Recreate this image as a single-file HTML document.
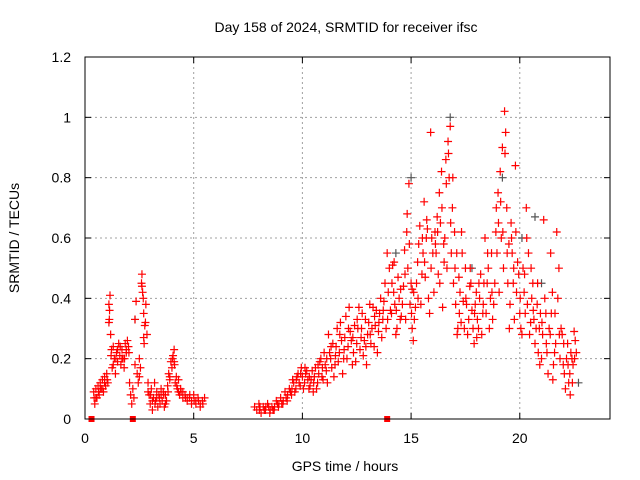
<!DOCTYPE html>
<html><head><meta charset="utf-8"><style>
body{margin:0;background:#fff;}
svg{display:block;font-family:"Liberation Sans",sans-serif;}
</style></head><body>
<svg id="chart" width="640" height="480" viewBox="0 0 640 480" xmlns="http://www.w3.org/2000/svg">
<rect width="640" height="480" fill="#fff"/>
<text x="346" y="32" font-size="14" text-anchor="middle" fill="#000">Day 158 of 2024, SRMTID for receiver ifsc</text>
<text x="345" y="471" font-size="14" text-anchor="middle">GPS time / hours</text>
<text transform="translate(19,238) rotate(-90)" font-size="14" text-anchor="middle">SRMTID / TECUs</text>
<g id="grid"></g><g id="ticks"></g><g id="marks"></g>
<rect x="85" y="57" width="525" height="362" fill="none" stroke="#000" stroke-width="1"/>
</svg>
<script>
const xTicks=[0,5,10,15,20];
const yTicks=[0,0.2,0.4,0.6,0.8,1,1.2];
const yTickLabels=["0","0.2","0.4","0.6","0.8","1","1.2"];
const timesA=[0.4,0.45,0.5,0.55,0.6,0.65,0.7,0.75,0.8,0.85,0.9,0.95,1.0,1.05,1.1,1.12,1.15,1.18,1.2,1.25,1.3,1.35,1.4,1.45,1.5,1.55,1.6,1.65,1.7,1.75,1.8,1.85,1.9,1.95,2.0,2.05,2.1,2.15,2.2,2.25,2.3,2.35,2.4,2.45,2.5,2.55,2.6,2.62,2.65,2.7,2.72,2.75,2.8,2.85,2.9,2.95,3.0,3.05,3.1,3.15,3.2,3.25,3.3,3.35,3.4,3.45,3.5,3.55,3.6,3.65,3.7,3.75,3.8,3.85,3.9,3.95,4.0,4.05,4.1,4.15,4.2,4.25,4.3,4.35,4.4,4.5,4.6,4.7,4.8,4.9,5.0,5.1,5.2,5.3,5.4,5.5,
7.8,7.9,8.0,8.1,8.2,8.3,8.4,8.5,8.6,8.7,8.8,8.9,9.0,9.1,9.2,9.3,9.4,9.5,9.6,9.7,9.8,9.9,10.0,10.1,10.2,10.3,10.4,10.5,10.6,10.7,10.8,10.9,11.0,11.1,11.2,11.3,11.4,11.5,11.6,11.7,11.8,11.9,12.0,12.1,12.2,12.3,12.4,12.5,12.6,12.7,12.8,12.9,13.0,13.1,13.2,13.3,13.4,13.5,13.6,13.7,13.8,13.9,14.0,14.1,14.2,14.3,14.4,14.5,14.6,14.7,14.8,14.9,15.0,15.05,15.1,15.2,15.3,15.4,15.5,15.6,15.7,15.8,15.9,16.0,16.1,16.2,16.3,16.4,16.5,16.6,16.7,16.8,16.9,17.0,17.1,17.2,17.3,17.4,17.5,17.6,17.7,17.8,17.9,18.0,18.1,18.2,18.3,18.4,18.5,18.6,18.7,18.8,18.9,19.0,19.1,19.2,19.3,19.35,19.4,19.5,19.6,19.7,19.8,19.9,20.0,20.1,20.2,20.3,20.4,20.5,20.6,20.7,20.8,20.9,21.0,21.1,21.2,21.3,21.4,21.5,21.6,21.7,21.8,21.9,22.0,22.1,22.2,22.3,22.4,22.5,22.6];
const valuesA=[0.09,0.05,0.1,0.07,0.11,0.08,0.12,0.1,0.13,0.09,0.14,0.11,0.15,0.12,0.38,0.33,0.41,0.28,0.21,0.17,0.24,0.2,0.15,0.22,0.19,0.25,0.21,0.18,0.23,0.2,0.17,0.25,0.22,0.26,0.24,0.12,0.08,0.05,0.1,0.07,0.33,0.39,0.15,0.12,0.2,0.17,0.45,0.48,0.42,0.35,0.25,0.31,0.38,0.28,0.12,0.08,0.05,0.1,0.03,0.07,0.12,0.06,0.09,0.04,0.08,0.05,0.1,0.06,0.09,0.04,0.08,0.06,0.11,0.15,0.13,0.19,0.17,0.21,0.23,0.12,0.14,0.1,0.13,0.08,0.1,0.07,0.08,0.06,0.07,0.05,0.08,0.05,0.07,0.04,0.06,0.07,
0.04,0.03,0.05,0.02,0.04,0.03,0.05,0.02,0.04,0.03,0.06,0.04,0.07,0.05,0.09,0.06,0.1,0.08,0.12,0.1,0.15,0.11,0.14,0.12,0.16,0.1,0.13,0.09,0.17,0.12,0.19,0.14,0.22,0.16,0.28,0.2,0.25,0.18,0.3,0.22,0.26,0.2,0.34,0.24,0.29,0.18,0.31,0.25,0.37,0.27,0.21,0.33,0.28,0.38,0.3,0.24,0.36,0.29,0.4,0.33,0.45,0.55,0.5,0.35,0.42,0.28,0.47,0.33,0.38,0.56,0.62,0.78,0.45,0.3,0.26,0.37,0.52,0.64,0.48,0.72,0.6,0.4,0.95,0.55,0.62,0.67,0.75,0.82,0.58,0.86,0.92,0.97,0.7,0.62,0.55,0.47,0.32,0.39,0.5,0.28,0.44,0.36,0.25,0.42,0.3,0.48,0.35,0.6,0.45,0.3,0.55,0.38,0.62,0.75,0.82,0.9,1.02,0.95,0.7,0.58,0.65,0.45,0.84,0.52,0.35,0.28,0.42,0.7,0.55,0.32,0.45,0.25,0.38,0.3,0.2,0.66,0.35,0.15,0.28,0.42,0.22,0.62,0.5,0.3,0.18,0.1,0.25,0.15,0.2,0.29,0.22];
const timesB=[0.5,0.7,0.9,1.1,1.3,1.5,1.7,1.9,2.3,2.5,2.7,2.9,3.1,3.3,3.5,3.7,3.9,4.1,4.3,4.5,4.7,4.9,5.1,5.3,8.05,8.25,8.45,8.65,8.85,9.05,9.25,9.45,9.55,9.65,9.75,9.85,9.95,10.05,10.15,10.25,10.35,10.45,10.55,10.65,10.75,10.85,10.95,11.05,11.15,11.25,11.35,11.45,11.55,11.65,11.75,11.85,11.95,12.05,12.15,12.25,12.35,12.45,12.55,12.65,12.75,12.85,12.95,13.05,13.15,13.25,13.35,13.45,13.55,13.65,13.75,13.85,13.95,14.05,14.15,14.25,14.35,14.45,14.55,14.65,14.75,14.85,14.95,15.05,15.15,15.25,15.35,15.45,15.55,15.65,15.75,15.85,15.95,16.05,16.15,16.25,16.35,16.45,16.55,16.65,16.75,16.85,16.95,17.05,17.15,17.25,17.35,17.45,17.55,17.65,17.75,17.85,17.95,18.05,18.15,18.25,18.35,18.45,18.55,18.65,18.75,18.85,18.95,19.05,19.15,19.25,19.45,19.55,19.65,19.75,19.85,19.95,20.05,20.15,20.25,20.35,20.45,20.55,20.65,20.75,20.85,20.95,21.05,21.15,21.25,21.35,21.45,21.55,21.65,21.75,21.85,21.95,22.05,22.15,22.25,22.35,22.45,22.55];
const valuesB=[0.07,0.1,0.12,0.32,0.18,0.23,0.2,0.23,0.18,0.14,0.27,0.09,0.06,0.07,0.08,0.05,0.14,0.19,0.09,0.09,0.07,0.06,0.06,0.05,0.04,0.03,0.04,0.03,0.05,0.05,0.07,0.09,0.13,0.09,0.14,0.12,0.17,0.1,0.15,0.13,0.11,0.16,0.14,0.1,0.15,0.2,0.13,0.18,0.12,0.22,0.17,0.14,0.24,0.19,0.32,0.15,0.27,0.2,0.37,0.26,0.22,0.19,0.3,0.23,0.35,0.26,0.18,0.32,0.25,0.37,0.31,0.22,0.35,0.27,0.39,0.3,0.42,0.36,0.51,0.38,0.3,0.4,0.34,0.44,0.33,0.5,0.38,0.43,0.33,0.45,0.58,0.38,0.55,0.47,0.63,0.35,0.6,0.42,0.55,0.48,0.65,0.37,0.6,0.5,0.8,0.55,0.45,0.38,0.3,0.42,0.55,0.3,0.38,0.33,0.45,0.3,0.38,0.33,0.4,0.28,0.45,0.35,0.5,0.4,0.33,0.45,0.55,0.42,0.6,0.5,0.45,0.38,0.55,0.33,0.42,0.48,0.3,0.5,0.35,0.38,0.28,0.4,0.33,0.3,0.22,0.35,0.28,0.4,0.22,0.3,0.35,0.18,0.25,0.4,0.2,0.28,0.15,0.2,0.12,0.22,0.18,0.26];
const timesC=[0.42,0.62,0.82,1.02,1.13,1.22,1.42,1.62,1.82,2.02,2.62,2.68,2.78,3.02,3.22,3.42,3.62,3.82,4.02,4.12,4.22,4.42,4.62,4.82,5.02,5.22,5.42,8.02,8.32,8.52,8.72,8.92,9.12,9.32,9.52,9.72,9.92,10.12,10.32,10.52,10.72,10.92,11.12,11.32,11.52,11.72,11.92,12.12,12.32,12.52,12.72,12.92,13.12,13.32,13.52,13.72,13.92,14.12,14.22,14.32,14.52,14.72,14.82,14.92,15.02,15.12,15.32,15.52,15.62,15.72,15.92,16.12,16.22,16.32,16.42,16.52,16.62,16.72,16.82,16.92,17.02,17.12,17.22,17.32,17.52,17.72,17.92,18.02,18.12,18.32,18.52,18.72,18.92,19.02,19.12,19.22,19.32,19.42,19.52,19.62,19.72,19.82,20.02,20.22,20.32,20.52,20.62,20.82,20.92,21.02,21.22,21.42,21.52,21.62,21.82,22.02,22.22,22.32,22.42,22.52];
const valuesC=[0.07,0.09,0.1,0.13,0.36,0.23,0.2,0.24,0.2,0.22,0.44,0.4,0.32,0.08,0.05,0.07,0.08,0.09,0.2,0.18,0.11,0.09,0.07,0.08,0.06,0.06,0.05,0.03,0.04,0.03,0.04,0.05,0.06,0.08,0.1,0.13,0.15,0.17,0.14,0.12,0.18,0.17,0.2,0.24,0.21,0.28,0.23,0.3,0.27,0.33,0.3,0.24,0.28,0.34,0.32,0.36,0.33,0.45,0.52,0.36,0.43,0.48,0.68,0.58,0.35,0.42,0.4,0.6,0.52,0.66,0.5,0.58,0.62,0.45,0.7,0.52,0.78,0.88,0.65,0.8,0.5,0.28,0.35,0.62,0.4,0.5,0.35,0.27,0.45,0.38,0.55,0.42,0.7,0.65,0.72,0.62,0.88,0.55,0.3,0.6,0.5,0.62,0.4,0.48,0.6,0.5,0.36,0.45,0.18,0.32,0.25,0.55,0.13,0.35,0.28,0.25,0.18,0.08,0.12,0.2];
const blackTimes=[2.3,16.8,20.7,15.0,19.2,22.7,14.3,21.0,17.8,20.1];
const blackValues=[0.33,1.0,0.67,0.8,0.8,0.12,0.55,0.45,0.5,0.6];
const zeroTimes=[0.3,2.2,13.9];

const NS="http://www.w3.org/2000/svg";
const X0=85,X1=610,Y0=419,Y1=57,XMAX=24.15,YMAX=1.2;
function sx(t){return X0+t/XMAX*(X1-X0);}
function sy(v){return Y0-v/YMAX*(Y0-Y1);}
function mk(tag,attrs,parent){const e=document.createElementNS(NS,tag);for(const k in attrs)e.setAttribute(k,attrs[k]);parent.appendChild(e);return e;}
const grid=document.getElementById('grid'),ticks=document.getElementById('ticks'),marks=document.getElementById('marks');
xTicks.forEach((t,i)=>{
  const x=sx(t);
  if(t>0){const g=mk('line',{x1:x,x2:x,y1:Y1,y2:Y0,stroke:'#a0a0a0','stroke-dasharray':'2,3','stroke-width':1},grid);
  
  }
  mk('line',{x1:x,x2:x,y1:Y0,y2:Y0-6,stroke:'#000'},ticks);
  mk('line',{x1:x,x2:x,y1:Y1,y2:Y1+6,stroke:'#000'},ticks);
  const l=mk('text',{x:x,y:443,'font-size':14,'text-anchor':'middle'},ticks);
  l.textContent=String(t);
  
  
});
yTicks.forEach((v,i)=>{
  const y=sy(v);
  if(v>0&&v<YMAX){const g=mk('line',{x1:X0,x2:X1,y1:y,y2:y,stroke:'#a0a0a0','stroke-dasharray':'2,3','stroke-width':1},grid);
  
  }
  mk('line',{x1:X0,x2:X0+6,y1:y,y2:y,stroke:'#000'},ticks);
  mk('line',{x1:X1,x2:X1-6,y1:y,y2:y,stroke:'#000'},ticks);
  const l=mk('text',{x:71,y:y+5,'font-size':14,'text-anchor':'end'},ticks);
  l.textContent=yTickLabels[i];
  
  
});
function plus(t,v,color,name){
  const x=sx(t),y=sy(v);
  const p=mk('path',{d:`M${x-4},${y}H${x+4}M${x},${y-4}V${y+4}`,stroke:color,'stroke-width':1.2,fill:'none'},marks);
  
  
}
blackTimes.forEach((t,i)=>plus(t,blackValues[i],'#555','black-point'));
timesC.forEach((t,i)=>plus(t,valuesC[i],'#ff0000','srmtid-point'));
timesB.forEach((t,i)=>plus(t,valuesB[i],'#ff0000','srmtid-point'));
timesA.forEach((t,i)=>plus(t,valuesA[i],'#ff0000','srmtid-point'));
zeroTimes.forEach(t=>{
  const r=mk('rect',{x:sx(t)-3,y:Y0-3,width:6,height:6,fill:'#ff0000'},marks);
  
  
});
</script>
</body></html>
